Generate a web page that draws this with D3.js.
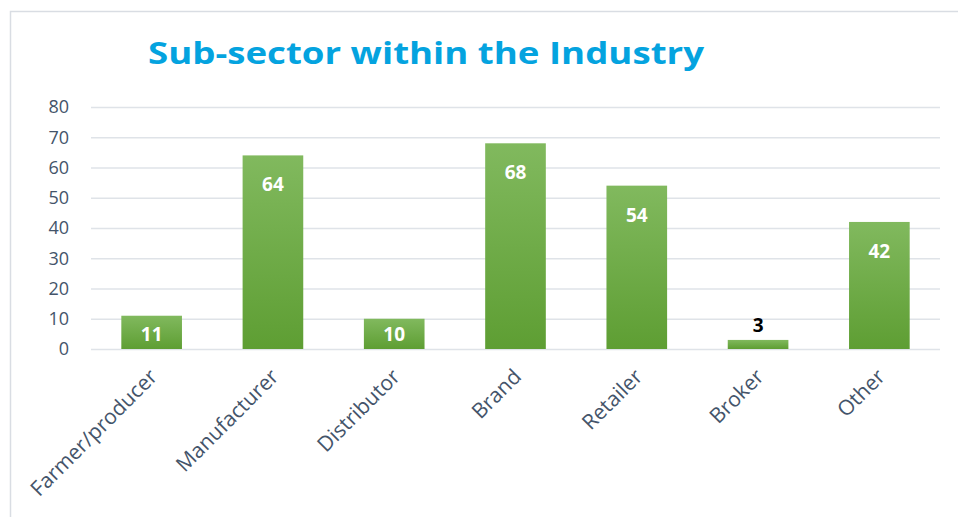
<!DOCTYPE html>
<html><head><meta charset="utf-8">
<script src="https://cdn.jsdelivr.net/npm/d3@7"></script>
<style>body{margin:0;background:#fff;}svg{display:block;}</style>
</head><body>
<svg id="c" width="958" height="517"></svg>
<script>
const categories = ["Farmer/producer","Manufacturer","Distributor","Brand","Retailer","Broker","Other"];
const values = [11, 64, 10, 68, 54, 3, 42];
const yTicks = [0,10,20,30,40,50,60,70,80];
const title = "Sub-sector within the Industry";

const svg = d3.select("#c");
const m = {left:91, right:18, top:107, bottom:168};
const W = 958, H = 517;
const x = d3.scaleBand().domain(categories).range([m.left, W - m.right]).paddingInner(0.5).paddingOuter(0.25);
const y = d3.scaleLinear().domain([0,80]).range([H - m.bottom, m.top]);

// frame
svg.append("rect").attr("x",10.5).attr("y",11.5).attr("width",1000).attr("height",600)
  .attr("fill","none").attr("stroke","#d9dde3").attr("stroke-width",1.5);

const defs = svg.append("defs");
const g = defs.append("linearGradient").attr("id","gr").attr("x1",0).attr("y1",0).attr("x2",0).attr("y2",1);
g.append("stop").attr("offset","0%").attr("stop-color","#81b95e");
g.append("stop").attr("offset","100%").attr("stop-color","#5e9e33");

// title
svg.append("text").attr("x",426).attr("y",64).attr("text-anchor","middle")
  .attr("font-family","'Open Sans', sans-serif").attr("font-weight","bold").attr("font-size",30)
  .attr("textLength",556).attr("lengthAdjust","spacingAndGlyphs")
  .attr("fill","#04a3df").text(title);

// grid
const yAxis = d3.axisLeft(y).tickValues(yTicks).tickSize(-(W - m.right - m.left)).tickPadding(22);
const ga = svg.append("g").attr("transform",`translate(${m.left},0)`).call(yAxis);
ga.select(".domain").remove();
ga.selectAll(".tick line").attr("stroke","#dfe3e8").attr("stroke-width",1.5);
ga.selectAll(".tick text").attr("font-family","'Open Sans', sans-serif").attr("font-size",18).attr("fill","#44546a");

// bars
svg.append("g").selectAll("rect").data(values).join("rect")
  .attr("x",(d,i)=>x(categories[i])).attr("width",x.bandwidth())
  .attr("y",d=>y(d)).attr("height",d=>y(0)-y(d)).attr("fill","url(#gr)");

// value labels
svg.append("g").selectAll("text").data(values).join("text")
  .attr("x",(d,i)=>x(categories[i]) + x.bandwidth()/2)
  .attr("y",d=> d < 8 ? y(d) - 8 : Math.min(y(d) + 36, y(0) - 8))
  .attr("text-anchor","middle")
  .attr("font-family","'Open Sans', sans-serif").attr("font-weight","bold").attr("font-size",19)
  .attr("fill",d=> d < 8 ? "#000" : "#fff").text(d=>d);

// x labels
const xa = svg.append("g").attr("transform",`translate(0,${y(0)})`)
  .call(d3.axisBottom(x).tickSize(0).tickPadding(0));
xa.select(".domain").remove();
xa.selectAll(".tick text")
  .attr("font-family","'Open Sans', sans-serif").attr("font-size",21).attr("fill","#44546a")
  .attr("text-anchor","end").attr("dy",0)
  .attr("transform","translate(7,29) rotate(-45)");
</script>
</body></html>
